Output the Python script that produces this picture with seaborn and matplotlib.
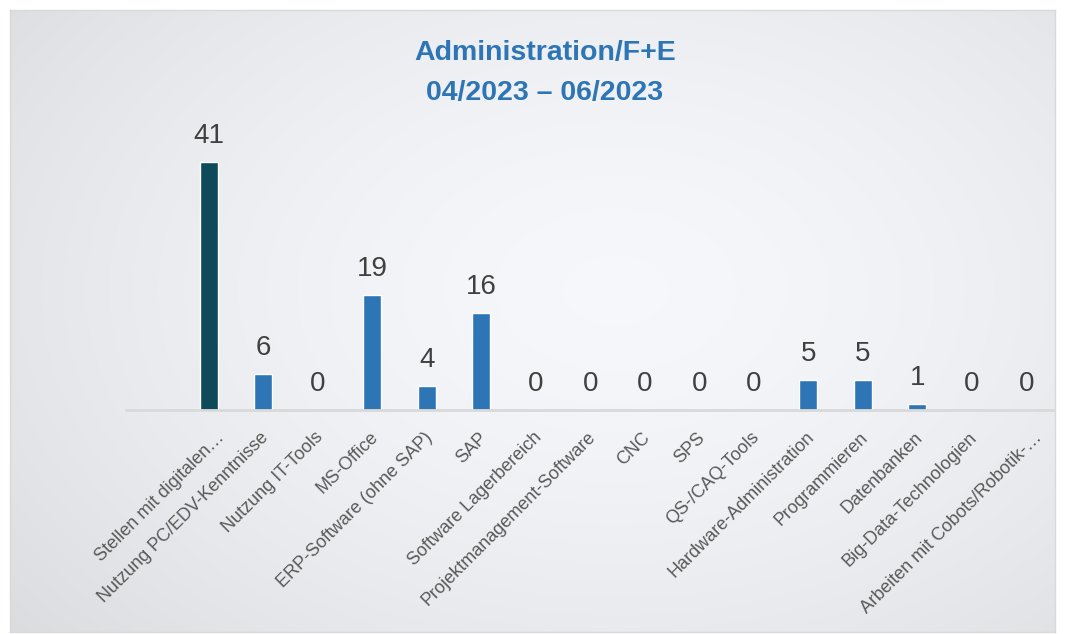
import numpy as np
import pandas as pd
import matplotlib
matplotlib.use("Agg")
import matplotlib.pyplot as plt
import matplotlib.transforms as mtransforms
import seaborn as sns

categories = [
    "Stellen mit digitalen…",
    "Nutzung PC/EDV-Kenntnisse",
    "Nutzung IT-Tools",
    "MS-Office",
    "ERP-Software (ohne SAP)",
    "SAP",
    "Software Lagerbereich",
    "Projektmanagement-Software",
    "CNC",
    "SPS",
    "QS-/CAQ-Tools",
    "Hardware-Administration",
    "Programmieren",
    "Datenbanken",
    "Big-Data-Technologien",
    "Arbeiten mit Cobots/Robotik-…",
]
values = [41, 6, 0, 19, 4, 16, 0, 0, 0, 0, 0, 5, 5, 1, 0, 0]
title_lines = ["Administration/F+E", "04/2023 – 06/2023"]

sns.set_theme(style="white")
plt.rcParams["font.family"] = ["Liberation Sans", "DejaVu Sans"]

W, H = 1066, 634
fig = plt.figure(figsize=(W / 100, H / 100), dpi=100)
fig.patch.set_facecolor("white")

# background panel with soft radial gradient
bx0, by0, bx1, by1 = 10, 10, 1055, 632
bg = fig.add_axes([bx0 / W, 1 - by1 / H, (bx1 - bx0) / W, (by1 - by0) / H])
gy, gx = np.mgrid[0:1:300j, 0:1:500j]
r = np.sqrt(((gx - 0.58) / 0.75) ** 2 + ((gy - 0.45) / 0.85) ** 2)
r = np.clip(r, 0, 1)
c_center = np.array([0.965, 0.97, 0.985])
c_edge = np.array([0.86, 0.865, 0.875])
img = c_center[None, None, :] * (1 - r[..., None] ** 1.6) + c_edge[None, None, :] * (r[..., None] ** 1.6)
bg.imshow(img, aspect="auto", extent=[0, 1, 0, 1], origin="upper")
bg.set_xticks([]); bg.set_yticks([])
for s in bg.spines.values():
    s.set_color("#d9d9d9"); s.set_linewidth(1)

# main axes
left_px, right_px, base_px, top_px = 126, 1054, 410, 115
ax = fig.add_axes([left_px / W, 1 - base_px / H, (right_px - left_px) / W, (base_px - top_px) / H])
ax.patch.set_alpha(0)

df = pd.DataFrame({"cat": categories, "val": values})
colors = ["#0e4a5a"] + ["#2e75b6"] * (len(categories) - 1)
sns.barplot(data=df, x="cat", y="val", hue="cat", palette=colors, legend=False,
            width=0.33, ax=ax, saturation=1)

ppu = (base_px - 162) / 41.0
ax.set_ylim(0, (base_px - top_px) / ppu)
ax.set_xlim(15.51 - (right_px - left_px) / 54.5, 15.51)

for cont in ax.containers:
    ax.bar_label(cont, fmt="%d", padding=9.5, fontsize=20, color="#404040")

for s in ["top", "right", "left"]:
    ax.spines[s].set_visible(False)
ax.spines["bottom"].set_color("#d9d9d9")
ax.spines["bottom"].set_linewidth(2)
ax.set_yticks([])
ax.set_xlabel(""); ax.set_ylabel("")
ax.tick_params(axis="x", length=0, pad=10)
ax.set_xticks(range(len(categories)))
ax.set_xticklabels(categories, rotation=45, ha="right", va="center",
                   rotation_mode="anchor", fontsize=13, color="#595959")
for lab in ax.get_xticklabels():
    dx = 13 if lab.get_text().endswith("…") else 3
    off = mtransforms.ScaledTranslation(dx / 100, -11 / 100, fig.dpi_scale_trans)
    lab.set_transform(lab.get_transform() + off)

for line, base_y in zip(title_lines, [60, 100]):
    fig.text(545 / W, 1 - base_y / H, line, ha="center", va="baseline",
             fontsize=20.5, fontweight="bold", color="#2e75b6")

fig.savefig("out.png", dpi=100)
